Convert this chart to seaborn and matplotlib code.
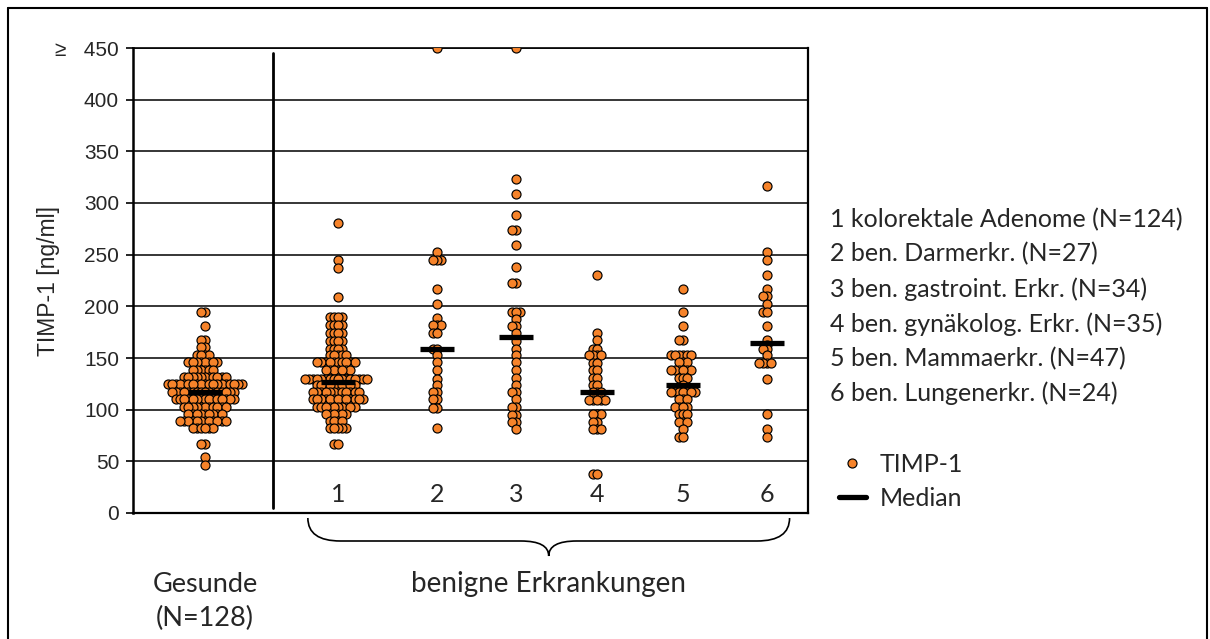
import numpy as np
import pandas as pd
import matplotlib
matplotlib.use("Agg")
import matplotlib.pyplot as plt
import matplotlib.transforms as mtransforms
from matplotlib.lines import Line2D
from matplotlib.path import Path
from matplotlib.patches import PathPatch
import seaborn as sns

# ---------------------------------------------------------------- data
group_labels = ["Gesunde", "1", "2", "3", "4", "5", "6"]
group_names = ["kolorektale Adenome", "ben. Darmerkr.", "ben. gastroint. Erkr.",
               "ben. gynäkolog. Erkr.", "ben. Mammaerkr.", "ben. Lungenerkr."]
group_n = [128, 124, 27, 34, 35, 47, 24]

# TIMP-1 [ng/ml]: measured levels and how many samples share each level
gesunde_levels = [195, 181, 167, 161, 153, 146, 138, 132, 125, 117, 110, 103, 96, 89, 82, 67, 54, 46]
gesunde_counts = [2, 1, 2, 2, 4, 8, 6, 11, 19, 16, 15, 11, 9, 12, 6, 2, 1, 1]

adenom_levels = [281, 245, 237, 209, 190, 182, 174, 166, 159, 153, 146, 138, 130, 124, 117, 110, 103, 96, 89, 82, 67]
adenom_counts = [1, 1, 1, 1, 4, 4, 4, 4, 4, 5, 10, 7, 16, 10, 12, 13, 10, 6, 4, 5, 2]

darm_levels = [450, 253, 245, 217, 202, 189, 182, 174, 159, 153, 146, 138, 130, 124, 117, 110, 102, 82]
darm_counts = [1, 1, 3, 1, 1, 1, 3, 2, 2, 1, 1, 1, 1, 1, 2, 2, 2, 1]

gastro_levels = [450, 323, 309, 288, 274, 259, 238, 223, 195, 188, 181, 174, 166, 159, 153, 146, 138, 131, 124, 117, 110, 103, 95, 88, 81]
gastro_counts = [1, 1, 1, 1, 2, 1, 1, 2, 3, 1, 2, 1, 1, 1, 1, 1, 1, 1, 1, 2, 1, 2, 2, 2, 1]

gyn_levels = [230, 174, 167, 159, 153, 145, 138, 131, 124, 117, 109, 96, 88, 81, 38]
gyn_counts = [1, 1, 1, 2, 4, 2, 2, 2, 2, 3, 5, 3, 2, 3, 2]

mamma_levels = [217, 195, 181, 167, 153, 146, 138, 131, 124, 117, 110, 103, 96, 88, 81, 74]
mamma_counts = [1, 1, 1, 2, 6, 3, 6, 3, 1, 7, 3, 4, 3, 3, 1, 2]

lunge_levels = [316, 253, 245, 230, 217, 210, 202, 195, 181, 167, 163, 159, 153, 145, 130, 96, 81, 74]
lunge_counts = [1, 1, 1, 1, 1, 2, 1, 2, 1, 1, 1, 2, 1, 4, 1, 1, 1, 1]

y_ticks = [0, 50, 100, 150, 200, 250, 300, 350, 400, 450]
y_ticklabels = ["0", "50", "100", "150", "200", "250", "300", "350", "400", "\u2265   450"]

# ---------------------------------------------------------------- layout / style
x_pos = [0.774, 2.204, 3.269, 4.118, 4.989, 5.914, 6.817]   # group centres on the x axis
x_split = 1.505                                              # healthy | benign divider
x_max = 7.258
orange = "#F6832A"
point_size = 6.5        # drawn marker diameter (pt)
swarm_size = 2.0        # spacing used for the swarm layout (pt) - dots overlap like a dot chart
txt_size = 19.5         # category text below the axis
key_size = 18

level_sets = [(gesunde_levels, gesunde_counts), (adenom_levels, adenom_counts),
              (darm_levels, darm_counts), (gastro_levels, gastro_counts),
              (gyn_levels, gyn_counts), (mamma_levels, mamma_counts),
              (lunge_levels, lunge_counts)]

frames = []
for lab, (lv, ct) in zip(group_labels, level_sets):
    frames.append(pd.DataFrame({"group": lab, "TIMP1": np.repeat(lv, ct)}))
df = pd.concat(frames, ignore_index=True)
df["xpos"] = df["group"].map(dict(zip(group_labels, x_pos)))

sns.set_style("white")
plt.rcParams["font.family"] = ["Lato", "DejaVu Sans"]
arial = ["Liberation Sans", "DejaVu Sans"]

W, H = 1210, 639
fig = plt.figure(figsize=(W / 100, H / 100), dpi=100)
ax = fig.add_axes([133 / W, 1 - 513 / H, 675 / W, 465 / H])

swarm_colls = []
for lab in group_labels:
    sub = df[df["group"] == lab]
    before = list(ax.collections)
    sns.swarmplot(data=sub, x="xpos", y="TIMP1", native_scale=True, orient="x",
                  color=orange, size=swarm_size, edgecolor="black", linewidth=0.85,
                  ax=ax, zorder=3)
    swarm_colls += [c for c in ax.collections if c not in before]

# medians
med = df.groupby("group", sort=False)["TIMP1"].median()
ax.hlines([med[g] for g in group_labels],
          [p - 0.185 for p in x_pos], [p + 0.185 for p in x_pos],
          colors="black", lw=3.8, zorder=4)

ax.set_xlim(0, x_max)
ax.set_ylim(0, 450)
ax.set_xticks([])
ax.set_xlabel("")
ax.set_yticks(y_ticks)
ax.set_yticklabels(y_ticklabels, family=arial, fontsize=15)
ax.tick_params(axis="y", direction="out", length=5, width=1.2, color="black", pad=5, left=True)
ax.set_ylabel("TIMP-1 [ng/ml]", family=arial, fontsize=16.5)
ax.yaxis.set_label_coords(-0.108, 0.5)
ax.yaxis.grid(True, color="black", lw=1.1)
ax.set_axisbelow(True)
for side, lw in [("left", 1.8), ("bottom", 1.6), ("right", 1.6), ("top", 1.2)]:
    ax.spines[side].set_visible(True)
    ax.spines[side].set_color("black")
    ax.spines[side].set_linewidth(lw)

ax.axvline(x_split, ymin=0.01, ymax=0.99, color="black", lw=2, zorder=2)

# group numbers inside the plot area
for p, lab in zip(x_pos[1:], group_labels[1:]):
    ax.text(p, 18, lab, ha="center", va="center", fontsize=18)

# labels and brace below the axis
blend = mtransforms.blended_transform_factory(ax.transData, fig.transFigure)
fy = lambda py: 1 - py / H
ax.text(x_pos[0], fy(584), "Gesunde", transform=blend, ha="center", va="center", fontsize=txt_size)
ax.text(x_pos[0], fy(618), f"(N={group_n[0]})", transform=blend, ha="center", va="center", fontsize=txt_size)
bx0, bx1 = 1.88, 7.06
bxm = (bx0 + bx1) / 2
ax.text(bxm, fy(584), "benigne Erkrankungen", transform=blend, ha="center", va="center",
        fontsize=txt_size + 0.5)

yt, ym, yb = fy(518), fy(541), fy(556)
verts = [(bx0, yt), (bx0, ym), (bx0 + 0.35, ym),
         (bxm - 0.3, ym), (bxm, ym), (bxm, yb),
         (bxm, ym), (bxm + 0.3, ym),
         (bx1 - 0.35, ym), (bx1, ym), (bx1, yt)]
codes = [Path.MOVETO, Path.CURVE3, Path.CURVE3,
         Path.LINETO, Path.CURVE3, Path.CURVE3,
         Path.CURVE3, Path.CURVE3,
         Path.LINETO, Path.CURVE3, Path.CURVE3]
brace = PathPatch(Path(verts, codes), transform=blend, fill=False, lw=1.2,
                  edgecolor="black", clip_on=False)
ax.add_patch(brace)

# group key
key_y = [220, 254, 289, 324, 359, 393]
for i, (name, n, py) in enumerate(zip(group_names, group_n[1:], key_y)):
    fig.text(830 / W, fy(py), f"{i + 1} {name} (N={n})", ha="left", va="center", fontsize=key_size)

handles = [Line2D([], [], ls="", marker="o", markersize=6.5, markerfacecolor=orange,
                  markeredgecolor="black", markeredgewidth=0.85),
           Line2D([], [], color="black", lw=3.8)]
fig.legend(handles, ["TIMP-1", "Median"], loc="upper left",
           bbox_to_anchor=(826 / W, fy(440)), frameon=False, fontsize=key_size,
           handlelength=1.1, handletextpad=0.55, labelspacing=0.45, borderpad=0)

# outer frame
frame_kw = dict(transform=fig.transFigure, color="black", lw=1.5)
fig.add_artist(Line2D([8 / W, 8 / W], [0, fy(8)], **frame_kw))
fig.add_artist(Line2D([8 / W, 1207 / W], [fy(8), fy(8)], **frame_kw))
fig.add_artist(Line2D([1207 / W, 1207 / W], [fy(8), 0], **frame_kw))

# lay out the swarms with the compact spacing, then fix them and enlarge the dots
fig.canvas.draw()
for coll in swarm_colls:
    coll.__dict__.pop("draw", None)
    coll.set_sizes([point_size ** 2])

fig.savefig("out.png", dpi=100)
